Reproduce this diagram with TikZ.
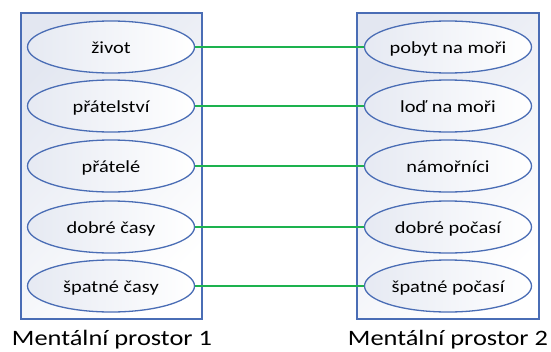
\documentclass[tikz,border=0pt]{standalone}
\usepackage{fontspec}
\setmainfont{Carlito}[FakeStretch=1.2]
\usetikzlibrary{shapes.geometric}
\definecolor{frameblue}{HTML}{4A6DB5}
\definecolor{linkgreen}{HTML}{1DB24F}
\definecolor{paleblue}{HTML}{E3E7F1}
\tikzset{
  space/.style={draw=frameblue, line width=1.2pt, left color=paleblue, right color=white, shading angle=45},
  concept/.style={ellipse, draw=frameblue, line width=1.3pt, minimum width=167pt, minimum height=52pt,
    inner sep=0pt, text height=13pt, text depth=0pt,
    left color=paleblue!90, right color=white, font=\fontsize{17}{19}\selectfont},
  link/.style={draw=linkgreen, line width=1.5pt},
  caption/.style={font=\fontsize{22}{24}\selectfont, anchor=base}
}
\begin{document}
\begin{tikzpicture}[x=1pt, y=-1pt]
  \useasboundingbox (0,0) rectangle (551,351);
  % the two mental spaces
  \path[space] (21,13) rectangle (202,319);
  \path[space] (357,13) rectangle (539,319);
  % left space
  \node[concept] (l1) at (111,47)  {život};
  \node[concept] (l2) at (111,106) {přátelství};
  \node[concept] (l3) at (111,166) {přátelé};
  \node[concept] (l4) at (111,227) {dobré časy};
  \node[concept] (l5) at (111,286) {špatné časy};
  % right space
  \node[concept] (r1) at (448,47)  {pobyt na moři};
  \node[concept] (r2) at (448,106) {loď na moři};
  \node[concept] (r3) at (448,166) {námořníci};
  \node[concept] (r4) at (448,227) {dobré počasí};
  \node[concept] (r5) at (448,286) {špatné počasí};
  % mappings between the spaces
  \foreach \i in {1,...,5} \draw[link] (l\i.east) -- (r\i.west);
  % captions
  \node[caption] (c1) at (112,345) {Mentální prostor 1};
  \node[caption] (c2) at (448,345) {Mentální prostor 2};
\end{tikzpicture}
\end{document}
